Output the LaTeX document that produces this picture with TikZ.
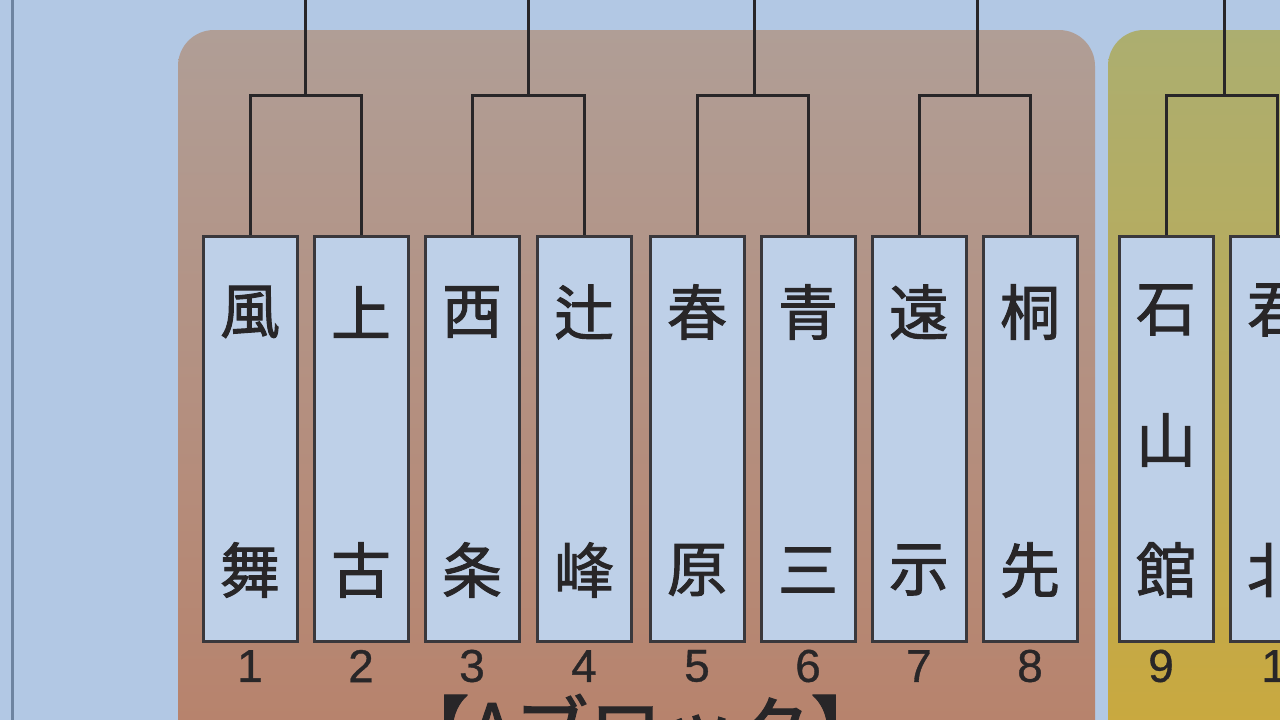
\documentclass[tikz,border=0pt]{standalone}
\usepackage{fontspec}
\newfontfamily\cjk[FakeBold=1.6]{Noto Sans CJK JP}
\newfontfamily\numfont[FakeBold=0.8]{Liberation Sans}
\definecolor{bgblue}{RGB}{178,200,228}
\definecolor{boxblue}{RGB}{190,208,232}
\definecolor{ink}{RGB}{40,38,40}
\definecolor{boxline}{RGB}{58,56,60}
\definecolor{brownTop}{RGB}{176,158,150}
\definecolor{brownBot}{RGB}{184,128,104}
\definecolor{yelTop}{RGB}{172,174,112}
\definecolor{yelBot}{RGB}{204,168,58}
\definecolor{sideline}{RGB}{110,132,160}
\tikzset{
  teambox/.style={draw=boxline, line width=3pt, fill=boxblue, minimum width=94pt, minimum height=405pt, inner sep=0pt},
  kanji/.style={font=\cjk\fontsize{60}{60}\selectfont, text=ink, inner sep=0pt},
  numlbl/.style={font=\numfont\fontsize{46}{46}\selectfont, text=ink, inner sep=0pt},
  bracket/.style={draw=ink, line width=3pt},
  blocktitle/.style={font=\cjk\fontsize{74}{74}\selectfont, text=ink, inner sep=0pt}
}
\begin{document}
\begin{tikzpicture}[x=1pt,y=-1pt]
\useasboundingbox (0,0) rectangle (1280,720);
\clip (0,0) rectangle (1280,720);
\fill[bgblue] (0,0) rectangle (1280,720);
\draw[sideline, line width=3pt] (12,0) -- (12,720);
% blocks
\shade[top color=brownTop, bottom color=brownBot, rounded corners=36pt] (178,30) rectangle (1095,800);
\shade[top color=yelTop, bottom color=yelBot, rounded corners=36pt] (1108,30) rectangle (1400,800);
% team boxes
\foreach \i/\x/\nx in {1/250/250,2/361/361,3/472/472,4/584/584,5/697/697,6/808/808,7/919/919,8/1030/1030,9/1166/1161,10/1277/1287}{
  \node[teambox] (t\i) at (\x,438.5) {};
  \node[numlbl] (n\i) at (\nx,666) {\i};
}
% names
\node[kanji] (a1) at (250,312) {風}; \node[kanji] (b1) at (250,570) {舞};
\node[kanji] (a2) at (361,312) {上}; \node[kanji] (b2) at (361,570) {古};
\node[kanji] (a3) at (472,312) {西}; \node[kanji] (b3) at (472,570) {条};
\node[kanji] (a4) at (584,312) {辻}; \node[kanji] (b4) at (584,570) {峰};
\node[kanji] (a5) at (697,312) {春}; \node[kanji] (b5) at (697,570) {原};
\node[kanji] (a6) at (808,312) {青}; \node[kanji] (b6) at (808,570) {三};
\node[kanji] (a7) at (919,312) {遠}; \node[kanji] (b7) at (919,570) {示};
\node[kanji] (a8) at (1030,312) {桐}; \node[kanji] (b8) at (1030,570) {先};
\node[kanji] (a9) at (1166,310) {石}; \node[kanji] (m9) at (1166,440) {山}; \node[kanji] (b9) at (1166,570) {館};
\node[kanji] (a10) at (1277,310) {君}; \node[kanji] (b10) at (1277,570) {北};
% brackets
\foreach \l/\r/\m/\k in {1/2/305/1,3/4/528/2,5/6/754/3,7/8/977/4,9/10/1224/5}{
  \coordinate (j\k) at (\m,95);
  \coordinate (s\k) at (\m,-5);
  \draw[bracket] (t\l.north) |- (j\k) -| (t\r.north);
  \draw[bracket] (j\k) -- (s\k);
}
\node[blocktitle] (title) at (640,729) {【Aブロック】};
\end{tikzpicture}
\end{document}
